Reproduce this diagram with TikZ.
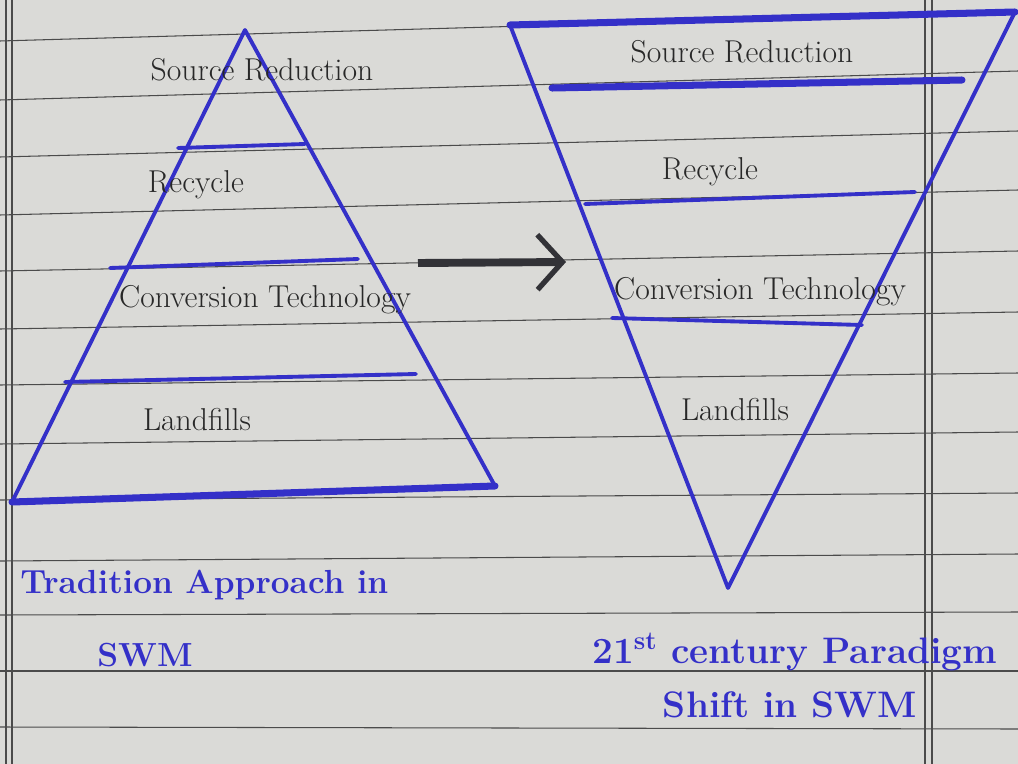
\documentclass[tikz,border=0pt]{standalone}
\usepackage{tikz}
\usetikzlibrary{arrows.meta}
\definecolor{paper}{RGB}{218,218,215}
\definecolor{rulegray}{RGB}{75,75,75}
\definecolor{pen}{RGB}{52,48,200}
\definecolor{ink}{RGB}{40,40,40}
\definecolor{marker}{RGB}{50,50,55}

\begin{document}
\begin{tikzpicture}[
    x=0.02cm, y=-0.02cm,
    ruled/.style={rulegray, line width=0.6pt},
    pencil/.style={pen, line width=2.2pt, line join=round, line cap=round},
    heavy/.style={pen, line width=4pt, line cap=round},
    tier/.style={text=ink, font=\fontsize{18}{21}\selectfont, inner sep=0pt},
    caption/.style={text=pen, font=\fontsize{#1}{25}\selectfont\bfseries, inner sep=0pt, anchor=west},
    caption/.default=21,
    arr/.style={-{Straight Barb[length=5mm, width=11mm, line width=3pt]}, marker, line width=4.5pt},
]

\fill[paper] (0,0) rectangle (1018,764);
\useasboundingbox (0,0) rectangle (1018,764);

% ruled paper
\foreach \a/\b in {41/12, 100/71, 157/131, 215/190, 271/251, 329/312, 385/373, 444/432, 500/493, 561/554, 615/612, 671/671, 727/729}
    \draw[ruled] (0,\a) -- (1018,\b);
\foreach \x in {6, 12, 925, 932}
    \draw[ruled] (\x,0) -- (\x,764);

% traditional pyramid
\coordinate (ltop) at (245,30);
\coordinate (lleft) at (12,502);
\coordinate (lright) at (495,486);
\draw[pencil] (lleft) -- (ltop) -- (lright);
\draw[heavy] (lleft) -- (lright);
\draw[pencil] (178,148) -- (305,144);
\draw[pencil] (110,268) -- (358,259);
\draw[pencil] (65,382) -- (416,374);

\node[tier] (lsource) at (262,70) {Source Reduction};
\node[tier] (lrecycle) at (196,185) {Recycle};
\node[tier] (lconv) at (265,300) {Conversion Technology};
\node[tier] (lland) at (197,420) {Landfills};

% inverted pyramid
\coordinate (rleft) at (510,25);
\coordinate (rright) at (1015,12);
\coordinate (rbot) at (728,588);
\draw[pencil] (rleft) -- (rbot) -- (rright);
\draw[heavy] (rleft) -- (rright);
\draw[heavy] (552,88) -- (962,80);
\draw[pencil] (585,204) -- (915,192);
\draw[pencil] (612,318) -- (862,325);

\node[tier] (rsource) at (742,52) {Source Reduction};
\node[tier] (rrecycle) at (710,172) {Recycle};
\node[tier] (rconv) at (760,292) {Conversion Technology};
\node[tier] (rland) at (735,410) {Landfills};

\coordinate (arrS) at (418,263);
\coordinate (arrE) at (566,262);
\draw[arr] (arrS) -- (arrE);

\node[caption=19] (ltitle) at (20,585) {Tradition Approach in};
\node[caption=19, anchor=center] (lswm) at (145,655) {SWM};
\node[caption] (rtitle) at (592,652) {21\textsuperscript{st} century Paradigm};
\node[caption, anchor=center] (rswm) at (790,705) {Shift in SWM};

\end{tikzpicture}
\end{document}
